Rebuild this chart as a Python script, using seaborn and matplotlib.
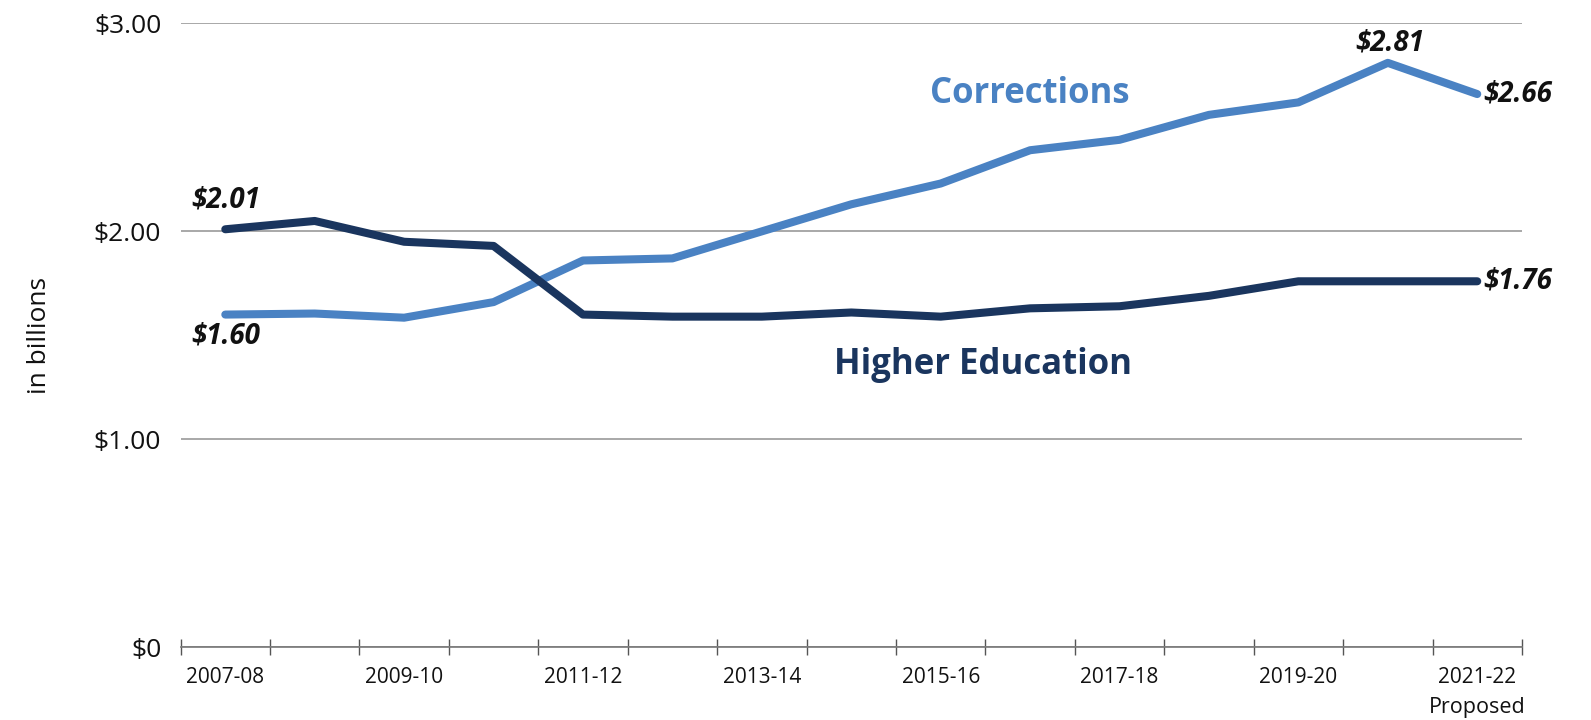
import matplotlib
matplotlib.use("Agg")
import matplotlib.pyplot as plt
import seaborn as sns
import pandas as pd
from matplotlib.ticker import FixedLocator

years = ["2007-08", "2008-09", "2009-10", "2010-11", "2011-12", "2012-13", "2013-14",
         "2014-15", "2015-16", "2016-17", "2017-18", "2018-19", "2019-20", "2020-21", "2021-22"]
corrections = [1.60, 1.605, 1.585, 1.66, 1.86, 1.87, 2.00, 2.13, 2.23, 2.39, 2.44, 2.56, 2.62, 2.81, 2.66]
higher_ed = [2.01, 2.05, 1.95, 1.93, 1.60, 1.59, 1.59, 1.61, 1.59, 1.63, 1.64, 1.69, 1.76, 1.76, 1.76]
y_ticks = [0, 1, 2, 3]
y_tick_labels = ["$0", "$1.00", "$2.00", "$3.00"]
x_tick_labels = ["2007-08", "", "2009-10", "", "2011-12", "", "2013-14", "", "2015-16", "",
                 "2017-18", "", "2019-20", "", "2021-22"]

c_corr = "#4a82c3"
c_hied = "#1a355e"

sns.set_theme(style="white")
plt.rcParams['font.family'] = ['Open Sans', 'DejaVu Sans']

df = pd.DataFrame({
    "year": years * 2,
    "value": corrections + higher_ed,
    "series": ["Corrections"] * len(years) + ["Higher Education"] * len(years),
})

fig = plt.figure(figsize=(15.91, 7.2), dpi=100)
ax = fig.add_axes([0.1135, 0.1008, 0.8431, 0.8668])

sns.lineplot(data=df, x="year", y="value", hue="series",
             palette={"Corrections": c_corr, "Higher Education": c_hied},
             linewidth=5.8, ax=ax, legend=False, sort=False)
for line in ax.lines:
    line.set_solid_capstyle("round")
    line.set_solid_joinstyle("round")

ax.set_xlim(-0.5, len(years) - 0.5)
ax.set_ylim(0, 3.0)

ax.set_yticks(y_ticks)
ax.set_yticklabels(y_tick_labels, fontsize=19, color="#111111")
ax.yaxis.grid(True, color="#9a9a9a", linewidth=1.2)
ax.xaxis.grid(False)
ax.tick_params(axis="y", length=0, pad=14)

ax.set_xticks(range(len(years)))
ax.set_xticklabels(x_tick_labels, fontsize=15, color="#111111")
ax.tick_params(axis="x", which="major", length=0, pad=14, bottom=True)
ax.xaxis.set_minor_locator(FixedLocator([i - 0.5 for i in range(len(years) + 1)]))
ax.tick_params(axis="x", which="minor", bottom=True, direction="inout", length=12,
               width=1.0, color="#555555")

for s in ["top", "right", "left"]:
    ax.spines[s].set_visible(False)
ax.spines["bottom"].set_color("#777777")
ax.spines["bottom"].set_linewidth(1.2)
ax.set_axisbelow(True)

ax.set_xlabel("")
ax.set_ylabel("in billions", fontsize=19, color="#111111", labelpad=30)

ax.text(len(years) - 1, -0.29, "Proposed", ha="center", va="center", fontsize=15.5, color="#111111")

ann = dict(fontsize=20, fontweight="bold", fontstyle="italic", color="#111111")
ax.annotate("$2.01", (0, higher_ed[0]), xytext=(0, 29), textcoords="offset pixels",
            ha="center", va="center", **ann)
ax.annotate("$1.60", (0, corrections[0]), xytext=(0, -21), textcoords="offset pixels",
            ha="center", va="center", **ann)
ax.annotate("$2.81", (13, corrections[13]), xytext=(2, 20), textcoords="offset pixels",
            ha="center", va="center", **ann)
ax.annotate("$2.66", (14, corrections[14]), xytext=(6, 0), textcoords="offset pixels",
            ha="left", va="center", **ann)
ax.annotate("$1.76", (14, higher_ed[14]), xytext=(6, 0), textcoords="offset pixels",
            ha="left", va="center", **ann)

ax.text(9.0, 2.66, "Corrections", ha="center", va="center", fontsize=25,
        fontweight="bold", color=c_corr)
ax.text(8.47, 1.36, "Higher Education", ha="center", va="center", fontsize=25,
        fontweight="bold", color=c_hied)

fig.savefig("out.png", dpi=100)
